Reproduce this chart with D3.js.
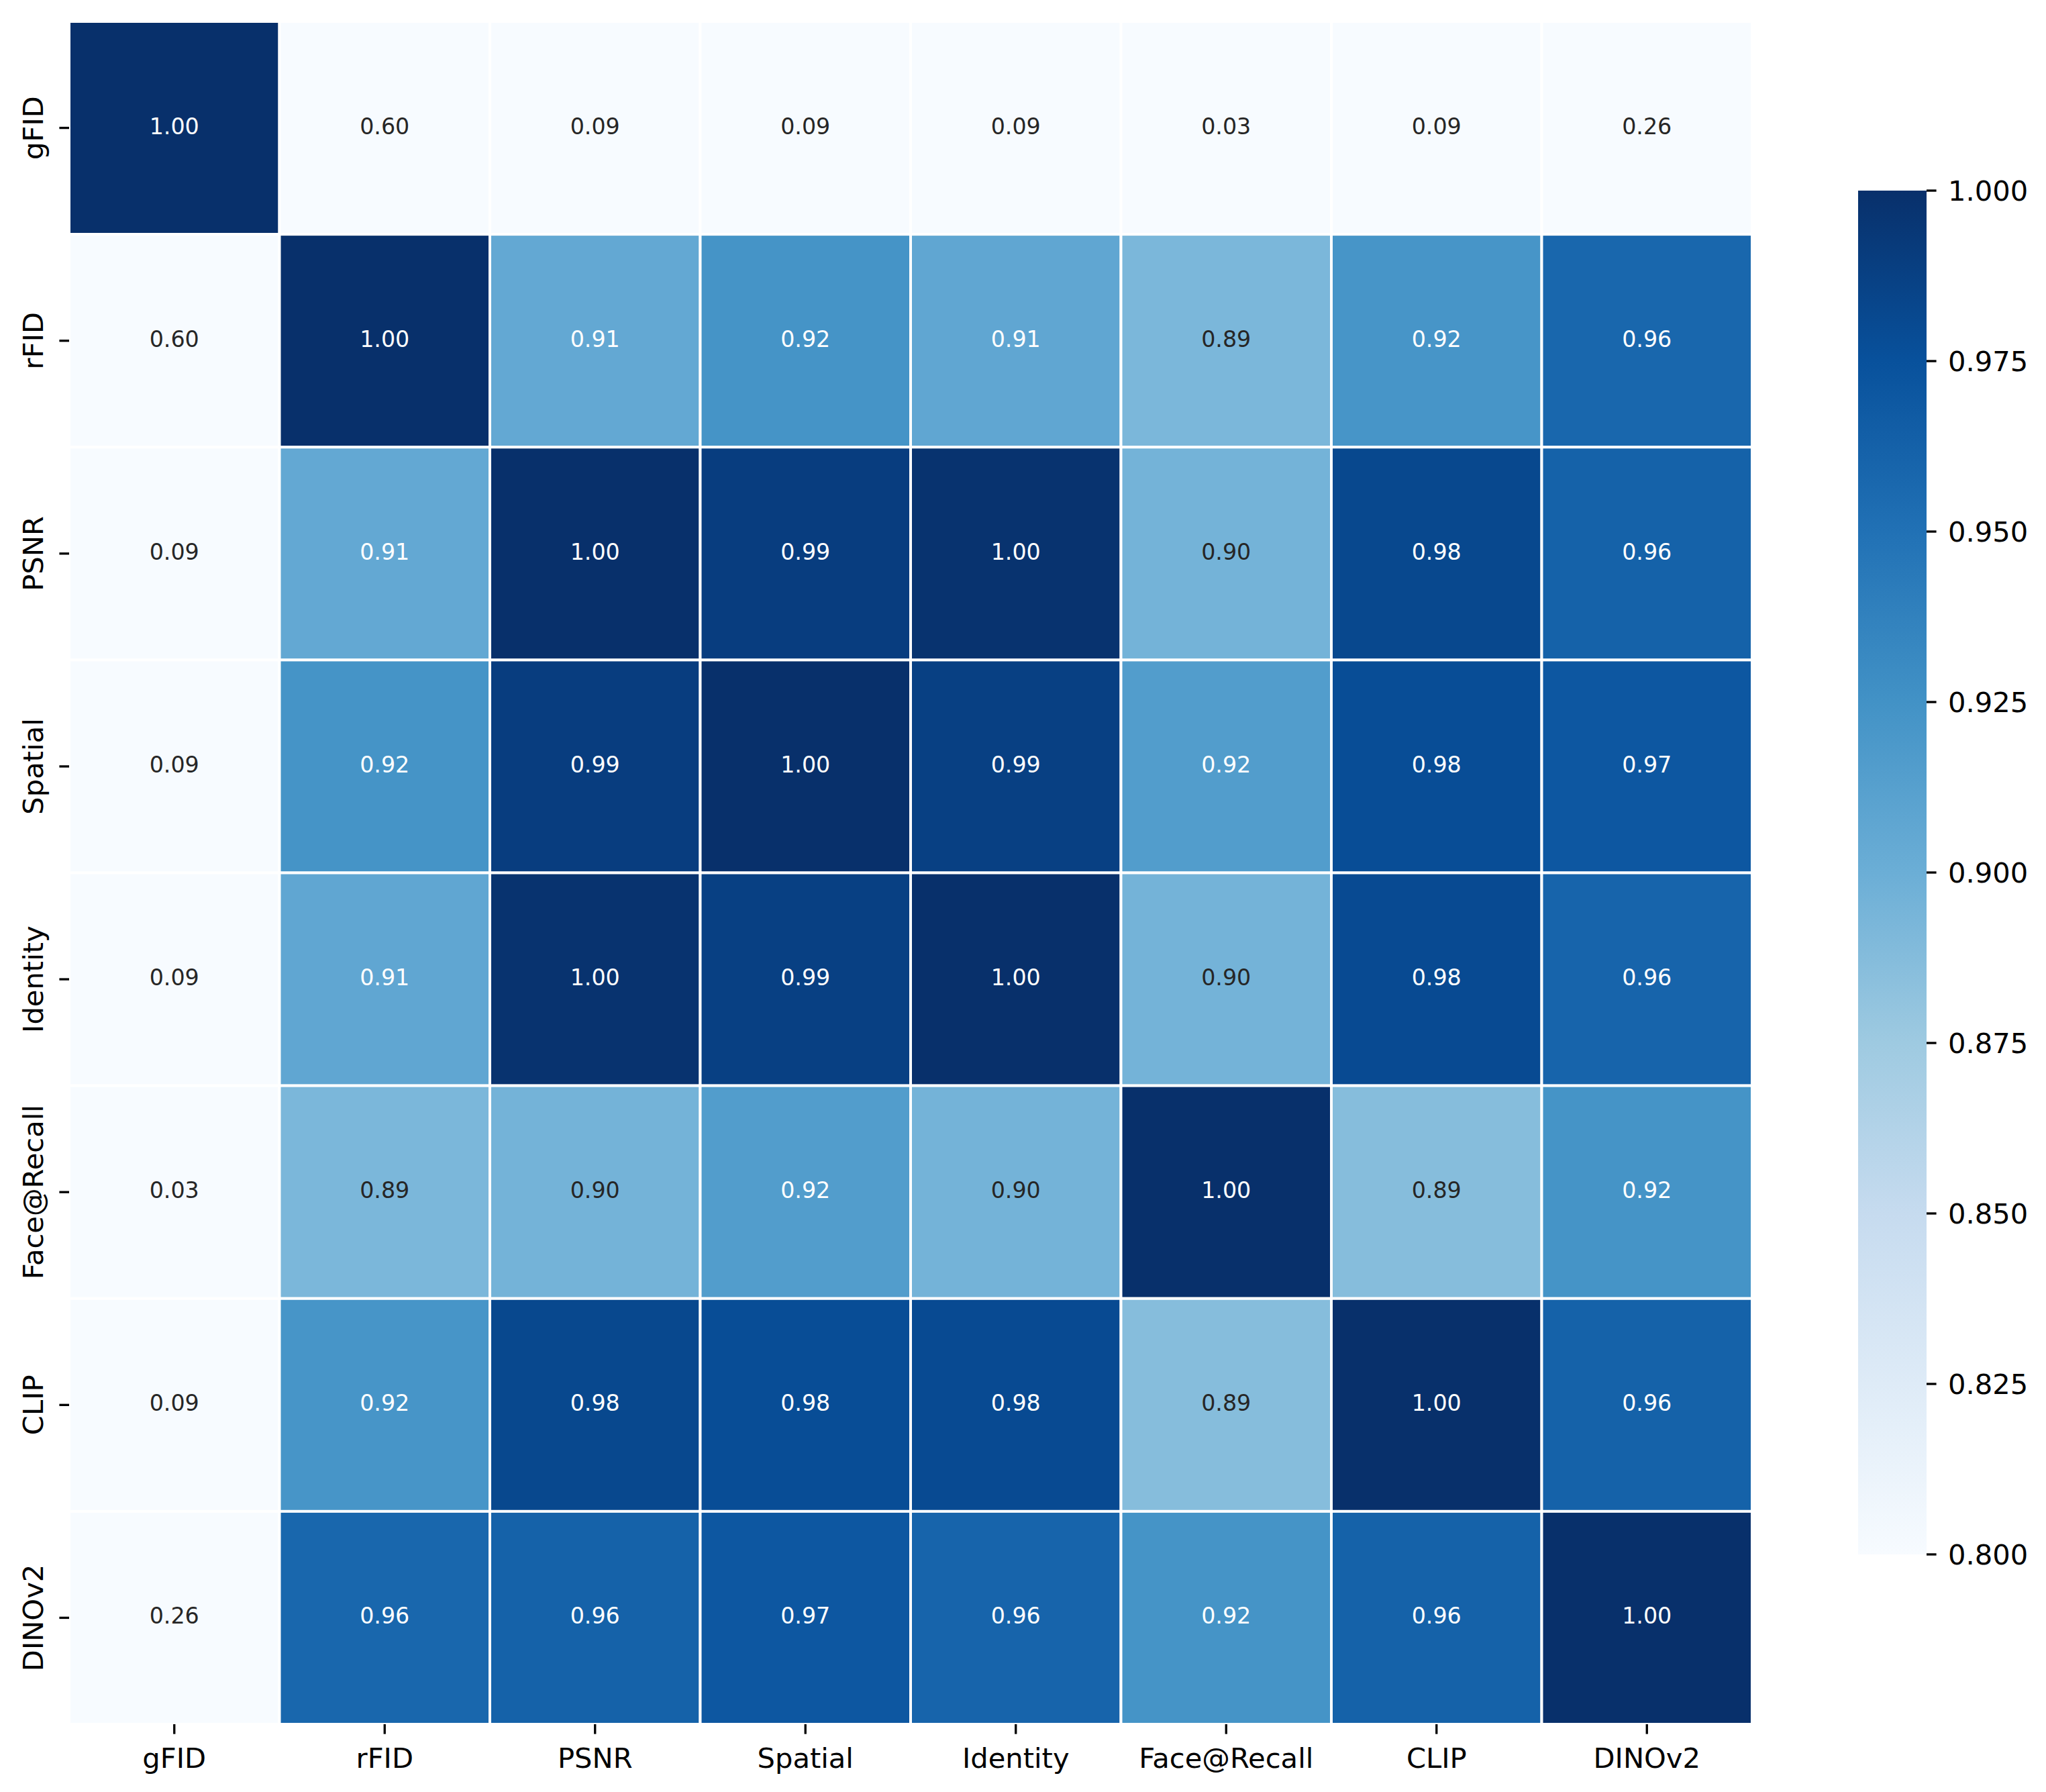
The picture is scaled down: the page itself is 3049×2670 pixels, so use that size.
<!DOCTYPE html>
<html>
<head>
<meta charset="utf-8">
<script src="https://cdn.jsdelivr.net/npm/d3@7"></script>
<style>
  html, body { margin: 0; padding: 0; background: #ffffff; }
  svg { display: block; }
  text { font-family: "DejaVu Sans", sans-serif; }
</style>
</head>
<body>
<script>
// ---------------- data ----------------
const metrics = ["gFID", "rFID", "PSNR", "Spatial", "Identity", "Face@Recall", "CLIP", "DINOv2"];

const rowGFID     = [1.00, 0.60, 0.09, 0.09, 0.09, 0.03, 0.09, 0.26];
const rowRFID     = [0.60, 1.00, 0.905, 0.923, 0.907, 0.892, 0.922, 0.958];
const rowPSNR     = [0.09, 0.905, 1.00, 0.990, 0.998, 0.8957, 0.982, 0.962];
const rowSpatial  = [0.09, 0.923, 0.990, 1.00, 0.988, 0.915, 0.978, 0.970];
const rowIdentity = [0.09, 0.907, 0.998, 0.988, 1.00, 0.8957, 0.980, 0.960];
const rowFace     = [0.03, 0.892, 0.8957, 0.915, 0.8957, 1.00, 0.887, 0.923];
const rowCLIP     = [0.09, 0.922, 0.982, 0.978, 0.980, 0.887, 1.00, 0.962];
const rowDINO     = [0.26, 0.958, 0.962, 0.970, 0.960, 0.923, 0.962, 1.00];

const matrix = [rowGFID, rowRFID, rowPSNR, rowSpatial, rowIdentity, rowFace, rowCLIP, rowDINO];

const colorbarTicks = [0.800, 0.825, 0.850, 0.875, 0.900, 0.925, 0.950, 0.975, 1.000];
const vmin = 0.8, vmax = 1.0;

// matplotlib "Blues" anchor colours
const bluesStops = ["#f7fbff", "#deebf7", "#c6dbef", "#9ecae1", "#6baed6", "#4292c6", "#2171b5", "#08519c", "#08306b"];

// ---------------- layout ----------------
const W = 3049, H = 2670;
const heat = { left: 103, right: 2611, top: 32, bottom: 2569 };
const cbar = { left: 2769, right: 2871, top: 284, bottom: 2316 };
const tickLen = 14.6, tickW = 3.33;
const tickFont = 41.67, annotFont = 33.3;

const svg = d3.select("body").append("svg")
  .attr("width", W).attr("height", H)
  .attr("viewBox", `0 0 ${W} ${H}`);
svg.append("rect").attr("width", W).attr("height", H).attr("fill", "#ffffff");

const x = d3.scaleBand().domain(metrics).range([heat.left, heat.right]).padding(0);
const y = d3.scaleBand().domain(metrics).range([heat.top, heat.bottom]).padding(0);

const tScale = d3.scaleLinear().domain([vmin, vmax]).range([0, 1]).clamp(true);
const blues = d3.scaleLinear()
  .domain(bluesStops.map((_, i) => i / (bluesStops.length - 1)))
  .range(bluesStops)
  .interpolate(d3.interpolateRgb)
  .clamp(true);
const color = v => blues(tScale(v));

function luminance(c) {
  const rgb = d3.rgb(c);
  const lin = ch => {
    const s = ch / 255;
    return s <= 0.03928 ? s / 12.92 : Math.pow((s + 0.055) / 1.055, 2.4);
  };
  return 0.2126 * lin(rgb.r) + 0.7152 * lin(rgb.g) + 0.0722 * lin(rgb.b);
}

const cells = [];
matrix.forEach((row, i) => row.forEach((v, j) => cells.push({ r: metrics[i], c: metrics[j], v })));

const g = svg.append("g");
g.selectAll("rect.cell").data(cells).enter().append("rect")
  .attr("class", "cell")
  .attr("x", d => x(d.c))
  .attr("y", d => y(d.r))
  .attr("width", x.bandwidth())
  .attr("height", y.bandwidth())
  .attr("fill", d => color(d.v))
  .attr("stroke", "#ffffff")
  .attr("stroke-width", 4);

const fmt2 = d3.format(".2f");
g.selectAll("text.annot").data(cells).enter().append("text")
  .attr("class", "annot")
  .attr("x", d => x(d.c) + x.bandwidth() / 2)
  .attr("y", d => y(d.r) + y.bandwidth() / 2 + 9)
  .attr("text-anchor", "middle")
  .attr("font-size", annotFont)
  .attr("fill", d => luminance(color(d.v)) > 0.408 ? "#262626" : "#ffffff")
  .text(d => fmt2(d.v));

// ---------------- x axis ----------------
const xAxis = svg.append("g");
metrics.forEach(m => {
  const cx = x(m) + x.bandwidth() / 2;
  xAxis.append("line")
    .attr("x1", cx).attr("x2", cx)
    .attr("y1", heat.bottom).attr("y2", heat.bottom + tickLen)
    .attr("stroke", "#000").attr("stroke-width", tickW);
  xAxis.append("text")
    .attr("x", cx).attr("y", 2634)
    .attr("text-anchor", "middle")
    .attr("font-size", tickFont)
    .attr("fill", "#000")
    .text(m);
});

// ---------------- y axis ----------------
const yAxis = svg.append("g");
metrics.forEach(m => {
  const cy = y(m) + y.bandwidth() / 2;
  yAxis.append("line")
    .attr("x1", heat.left - tickLen).attr("x2", heat.left)
    .attr("y1", cy).attr("y2", cy)
    .attr("stroke", "#000").attr("stroke-width", tickW);
  yAxis.append("text")
    .attr("transform", `translate(64,${cy}) rotate(-90)`)
    .attr("text-anchor", "middle")
    .attr("font-size", tickFont)
    .attr("fill", "#000")
    .text(m);
});

// ---------------- colorbar ----------------
const defs = svg.append("defs");
const grad = defs.append("linearGradient")
  .attr("id", "cbgrad")
  .attr("x1", "0").attr("y1", "1").attr("x2", "0").attr("y2", "0");
bluesStops.forEach((c, i) => {
  grad.append("stop")
    .attr("offset", (i / (bluesStops.length - 1) * 100) + "%")
    .attr("stop-color", c);
});
svg.append("rect")
  .attr("x", cbar.left).attr("y", cbar.top)
  .attr("width", cbar.right - cbar.left)
  .attr("height", cbar.bottom - cbar.top)
  .attr("fill", "url(#cbgrad)");

const cy = d3.scaleLinear().domain([vmin, vmax]).range([cbar.bottom, cbar.top]);
const cbAxis = svg.append("g");
const fmt3 = d3.format(".3f");
colorbarTicks.forEach(t => {
  const yy = cy(t);
  cbAxis.append("line")
    .attr("x1", cbar.right).attr("x2", cbar.right + tickLen)
    .attr("y1", yy).attr("y2", yy)
    .attr("stroke", "#000").attr("stroke-width", tickW);
  cbAxis.append("text")
    .attr("x", 2903).attr("y", yy + 15)
    .attr("text-anchor", "start")
    .attr("font-size", tickFont)
    .attr("fill", "#000")
    .text(fmt3(t));
});
</script>
</body>
</html>
